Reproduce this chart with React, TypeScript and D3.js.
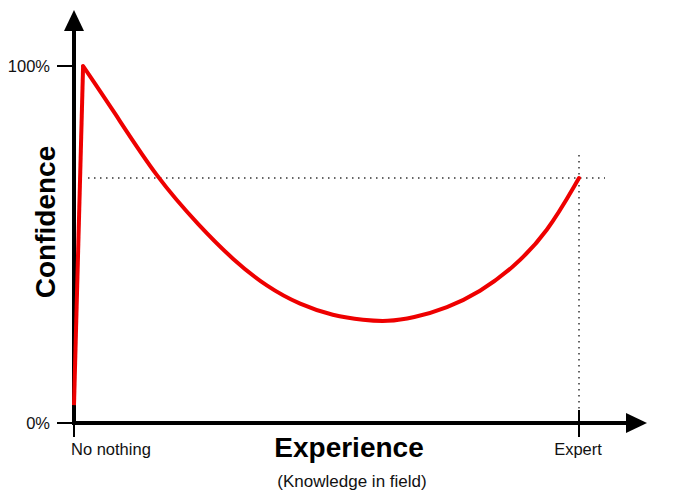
import React from "react";
import * as d3 from "d3";

const W = 700;
const H = 499;

// Experience (0 = no knowledge, 100 = expert) vs confidence (%)
const experience = [0, 1.8, 7.7, 16.4, 25.0, 31.5, 38.2, 44.8, 51.3, 57.5, 62.0, 67.1, 73.9, 80.4, 86.9, 93.7, 100];
const confidence = [5.0, 100, 87.7, 68.6, 54.9, 45.7, 38.1, 33.1, 30.0, 28.8, 28.4, 29.4, 32.2, 36.7, 43.4, 53.2, 68.6];
const yTickValues = [0, 100];
const yTickLabels = ["0%", "100%"];
const xTickValues = [0, 100];
const xTickLabels = ["No nothing", "Expert"];
const expertConfidence = 68.6;

export default function App() {
  const x = d3.scaleLinear().domain([0, 100]).range([74, 579]);
  const y = d3.scaleLinear().domain([0, 100]).range([423, 66]);

  const pts = experience.map((e, i) => [x(e), y(confidence[i])] as [number, number]);
  const rise = d3.line().curve(d3.curveLinear)(pts.slice(0, 2)) || "";
  const fall = d3.line().curve(d3.curveBasis)(pts.slice(1)) || "";

  const font = "Arial, 'Liberation Sans', sans-serif";
  const yExp = y(expertConfidence);

  return (
    <svg width={W} height={H} style={{ position: "absolute", left: 0, top: 0, background: "#fff" }} fontFamily={font}>
      {/* dotted guides */}
      <line x1={88} x2={605} y1={yExp} y2={yExp} stroke="#333" strokeWidth={1.5} strokeDasharray="1.5 4.5" />
      <line x1={x(100)} x2={x(100)} y1={155} y2={420} stroke="#333" strokeWidth={1.5} strokeDasharray="1.5 4.5" />

      {/* y axis */}
      <line x1={74} x2={74} y1={425} y2={28} stroke="#000" strokeWidth={4} />
      <path d="M74,10 L84,31 L64,31 Z" fill="#000" />
      {yTickValues.map((v, i) => (
        <g key={v}>
          <line x1={57} x2={74} y1={y(v)} y2={y(v)} stroke="#000" strokeWidth={2} />
          <text x={50} y={y(v)} dy="0.35em" textAnchor="end" fontSize={16.5} fill="#111">
            {yTickLabels[i]}
          </text>
        </g>
      ))}

      {/* x axis */}
      <line x1={72} x2={630} y1={423} y2={423} stroke="#000" strokeWidth={4} />
      <path d="M647,423 L626,413 L626,433 Z" fill="#000" />
      {xTickValues.map((v, i) => (
        <g key={v}>
          <line x1={x(v)} x2={x(v)} y1={i === 0 ? 423 : 410} y2={437} stroke="#000" strokeWidth={2} />
          <text
            x={i === 0 ? x(v) - 3 : x(v) - 1}
            y={455}
            textAnchor={i === 0 ? "start" : "middle"}
            fontSize={16.5}
            fill="#111"
          >
            {xTickLabels[i]}
          </text>
        </g>
      ))}

      {/* curve */}
      <path d={rise} fill="none" stroke="#ee0000" strokeWidth={4} strokeLinejoin="miter" />
      <path d={fall} fill="none" stroke="#ee0000" strokeWidth={4} strokeLinecap="round" />

      {/* titles */}
      <text
        transform="translate(55,222) rotate(-90)"
        textAnchor="middle"
        fontSize={28}
        fontWeight="bold"
        fill="#000"
      >
        Confidence
      </text>
      <text x={349} y={457} textAnchor="middle" fontSize={28} fontWeight="bold" fill="#000">
        Experience
      </text>
      <text x={352} y={487} textAnchor="middle" fontSize={17} fill="#111">
        (Knowledge in field)
      </text>
    </svg>
  );
}
